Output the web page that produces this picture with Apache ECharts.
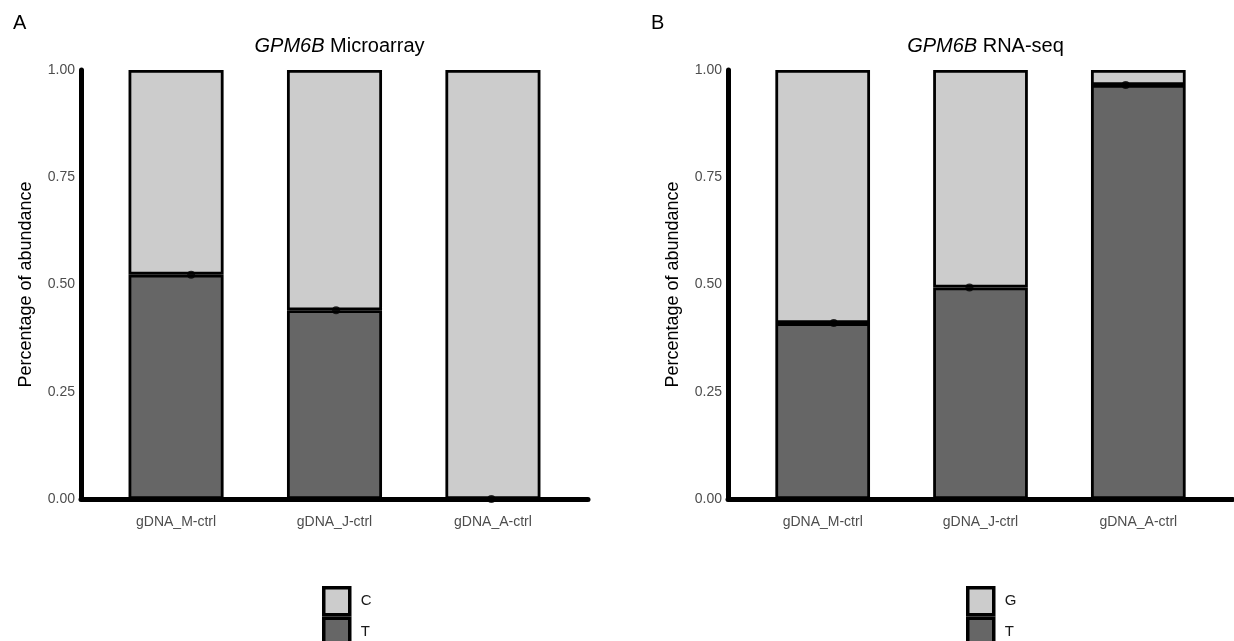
<!DOCTYPE html>
<html><head><meta charset="utf-8">
<script src="https://cdn.jsdelivr.net/npm/echarts@6/dist/echarts.min.js"></script>
<style>html,body{margin:0;padding:0;background:#fff}#c{width:1234px;height:641px}</style>
</head><body><div id="c"></div>
<script>
// ---- data ----
const categories = ['gDNA_M-ctrl', 'gDNA_J-ctrl', 'gDNA_A-ctrl'];
const yTicks = [0, 0.25, 0.5, 0.75, 1];
// Panel A: GPM6B Microarray
const microT = [0.523, 0.44, 0.0];
const microC = [0.477, 0.56, 1.0];
const microDotX = [1.095, 2.01, 2.99];
// Panel B: GPM6B RNA-seq
const rnaT = [0.41, 0.493, 0.965];
const rnaG = [0.59, 0.507, 0.035];
const rnaDotX = [1.07, 1.93, 2.92];

// ---- layout ----
const FONT = 'Liberation Sans, Arial, Helvetica, sans-serif';
const gA = {left: 81, top: 70, width: 507, height: 429};
const gB = {left: 728, top: 70, width: 505, height: 429};
const LIGHT = '#cccccc', DARK = '#666666';
// bar grids: category bands covering x = 0.5 .. 3.5 of the 0.4 .. 3.6 axis
function barGrid(g) {
  const unit = g.width / 3.2;
  return {left: g.left + 0.1 * unit, top: g.top, width: 3 * unit, height: g.height};
}

function xAxisFor(i) {
  return {
    type: 'value', gridIndex: i, min: 0.4, max: 3.6,
    splitLine: {show: false}, axisTick: {show: false},
    axisLine: {onZero: false, lineStyle: {color: '#000', width: 5}},
    axisLabel: {
      customValues: [1, 2, 3], color: '#4d4d4d', fontSize: 14, fontFamily: FONT, margin: 16,
      formatter: v => categories[Math.round(v) - 1]
    }
  };
}
function yAxisFor(i) {
  return {
    type: 'value', gridIndex: i, min: 0, max: 1, interval: 0.25,
    splitLine: {show: false}, axisTick: {show: false},
    axisLine: {show: true, onZero: false, lineStyle: {color: '#000', width: 5}},
    axisLabel: {color: '#4d4d4d', fontSize: 14, fontFamily: FONT, margin: 6,
      formatter: v => v.toFixed(2)},
    name: 'Percentage of abundance', nameLocation: 'middle', nameGap: 46,
    nameTextStyle: {color: '#000', fontSize: 18, fontFamily: FONT}
  };
}
function hiddenCatX(i) {
  return {type: 'category', gridIndex: i, data: categories, show: false, boundaryGap: true};
}
function hiddenY(i) {
  return {type: 'value', gridIndex: i, min: 0, max: 1, show: false, splitLine: {show: false}};
}
function barSeries(name, vals, idx, stack, color) {
  return {
    type: 'bar', name: name, xAxisIndex: idx, yAxisIndex: idx, stack: stack,
    barWidth: '60%', data: vals,
    itemStyle: {color: color, borderColor: '#000', borderWidth: 2.8},
    emphasis: {disabled: true}, z: 2
  };
}
function dotSeries(xs, ys, idx) {
  return {
    type: 'scatter', xAxisIndex: idx, yAxisIndex: idx, symbol: 'circle', symbolSize: 8,
    data: xs.map((x, i) => [x, ys[i]]), itemStyle: {color: '#000'}, z: 5, silent: true
  };
}

const legendCommon = {
  orient: 'vertical', itemWidth: 26, itemHeight: 27, itemGap: 0, icon: 'rect',
  padding: 0, selectedMode: false, height: 120, width: 100,
  itemStyle: {borderColor: '#000', borderWidth: 3.5},
  textStyle: {color: '#1a1a1a', fontSize: 15, fontFamily: FONT, padding: [0, 0, 0, 6]}
};
const titleStyle = {fontSize: 20, fontWeight: 'normal', color: '#000', fontFamily: FONT,
  rich: {i: {fontStyle: 'italic', fontSize: 20, fontFamily: FONT, color: '#000'}}};

const option = {
  animation: false,
  textStyle: {fontFamily: FONT},
  title: [
    {text: 'A', left: 8, top: 8, textStyle: {fontSize: 20, fontWeight: 'normal', color: '#000', fontFamily: FONT}},
    {text: 'B', left: 646, top: 8, textStyle: {fontSize: 20, fontWeight: 'normal', color: '#000', fontFamily: FONT}},
    {text: '{i|GPM6B} Microarray', left: gA.left + gA.width / 2, textAlign: 'center', top: 31, textStyle: titleStyle},
    {text: '{i|GPM6B} RNA-seq', left: gB.left + gB.width / 2, textAlign: 'center', top: 31, textStyle: titleStyle}
  ],
  legend: [
    Object.assign({}, legendCommon, {left: 322, top: 586, data: ['C', 'T']}),
    Object.assign({}, legendCommon, {left: 966, top: 586, data: ['G', 'T']})
  ],
  grid: [gA, gB, barGrid(gA), barGrid(gB)],
  xAxis: [xAxisFor(0), xAxisFor(1), hiddenCatX(2), hiddenCatX(3)],
  yAxis: [yAxisFor(0), yAxisFor(1), hiddenY(2), hiddenY(3)],
  series: [
    barSeries('T', microT, 2, 'a', DARK),
    barSeries('C', microC, 2, 'a', LIGHT),
    dotSeries(microDotX, microT, 0),
    barSeries('T', rnaT, 3, 'b', DARK),
    barSeries('G', rnaG, 3, 'b', LIGHT),
    dotSeries(rnaDotX, rnaT, 1)
  ]
};
const chart = echarts.init(document.getElementById('c'), null, {renderer: 'canvas'});
chart.setOption(option);
</script></body></html>
